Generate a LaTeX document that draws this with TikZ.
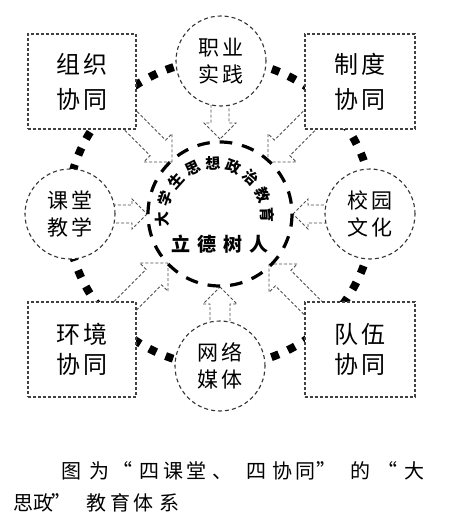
\documentclass[tikz,border=0pt]{standalone}
\usepackage{fontspec}
\setmainfont{Noto Sans CJK SC}
\newcommand\capch[2]{\rlap{\hskip#1pt\makebox[0pt]{#2}}}
\begin{document}
\begin{tikzpicture}[x=1pt,y=-1pt,
  ring/.style={line width=8pt, dash pattern=on 8pt off 10pt, black},
  innerring/.style={line width=3.2pt, dash pattern=on 12.6pt off 10pt, black},
  blk/.style={draw=black!70, line width=0.9pt, dash pattern=on 3pt off 2pt, line join=miter},
  pics/barrow/.style n args={3}{code={
    % #1 total length, #2 shaft half width, #3 head half width (head length = #3)
    \draw[blk] (0,0) -- (-#3,#3) -- (-#3,#2) -- (-#1,#2) -- (-#1,-#2) -- (-#3,-#2) -- (-#3,-#3) -- cycle;
  }},
  circ/.style={circle, draw=black!80, line width=1.1pt, dash pattern=on 4pt off 3pt, fill=white,
    minimum size=90pt, inner sep=0pt, align=center, font=\fontsize{21pt}{27pt}\selectfont},
  obox/.style={rectangle, draw=black!75, line width=1.1pt, dash pattern=on 3pt off 2pt, fill=white,
    minimum height=95pt, inner sep=0pt, align=center},
  topbox/.style={font=\fontsize{24pt}{35pt}\selectfont},
  botbox/.style={font=\fontsize{24pt}{30pt}\selectfont},
  arcchar/.style={inner sep=0pt, font=\fontsize{15pt}{15pt}\selectfont\bfseries},
  caption/.style={inner sep=0pt, anchor=base west, font=\fontsize{20pt}{20pt}\selectfont}
]
\useasboundingbox (0,0) rectangle (450,532);
% thick square-dotted ring
\draw[ring] (220,213) circle (153);
% hollow dashed block arrows (tip at the given point)
\pic[rotate=-90] (aTop) at (220,139) {barrow={42}{9}{16}};
\pic[rotate=0]   (aLeft) at (147,214) {barrow={42}{9}{15}};
\pic[rotate=180] (aRight) at (293,214) {barrow={42}{9}{15}};
\pic[rotate=90]  (aBot) at (220,287) {barrow={42}{10}{17}};
\pic[rotate=-45]  (aTL) at (172,162) {barrow={68}{11}{20}};
\pic[rotate=-135] (aTR) at (268,162) {barrow={68}{11}{20}};
\pic[rotate=45]   (aBL) at (168,263) {barrow={68}{11}{20}};
\pic[rotate=135]  (aBR) at (269,264) {barrow={68}{11}{20}};
% inner dashed circle
\draw[innerring] (220,214) circle (72);
% arc text
\foreach \ch [count=\i from 0] in {大,学,生,思,想,政,治,教,育} {
  \pgfmathsetmacro\ang{184-\i*22.9}
  \node[arcchar, rotate=\ang-90] (t\i) at ([shift={(-\ang:52.5)}]215,216) {\ch};
}
\node[inner sep=0pt, font=\fontsize{19pt}{19pt}\selectfont\bfseries] (core) at (220,244)
  {立\hspace{7pt}德\hspace{7pt}树\hspace{7pt}人};
% circles
\node[circ] (cTop) at (221,61) {职\hspace{3pt}业\\实\hspace{3pt}践};
\node[circ] (cLeft) at (70,214) {课\hspace{3pt}堂\\教\hspace{3pt}学};
\node[circ] (cRight) at (370,214) {校\hspace{3pt}园\\文\hspace{3pt}化};
\node[circ] (cBot) at (220,366) {网\hspace{3pt}络\\媒\hspace{3pt}体};
% boxes
\node[obox, topbox, minimum width=108pt] (bTL) at (82,81.5) {组\hspace{4pt}织\\协\hspace{4pt}同};
\node[obox, topbox, minimum width=110pt] (bTR) at (360,81.5) {制\hspace{4pt}度\\协\hspace{4pt}同};
\node[obox, botbox, minimum width=108pt] (bBL) at (82,349.5) {环\hspace{4pt}境\\协\hspace{4pt}同};
\node[obox, botbox, minimum width=110pt] (bBR) at (360,349.5) {队\hspace{4pt}伍\\协\hspace{4pt}同};
% caption
\node[caption] (cap1) at (0,478) {\capch{71}{图}\capch{99}{为}\capch{122}{“}\capch{149}{四}\capch{173}{课}\capch{196}{堂}\capch{222}{、}\capch{256}{四}\capch{282}{协}\capch{305}{同}\capch{326}{”}\capch{360}{的}\capch{387}{“}\capch{414}{大}\hskip430pt};
\node[caption] (cap2) at (0,510) {\capch{22.5}{思}\capch{42.5}{政}\capch{61}{”}\capch{96}{教}\capch{120}{育}\capch{143}{体}\capch{169}{系}\hskip180pt};
\end{tikzpicture}
\end{document}
